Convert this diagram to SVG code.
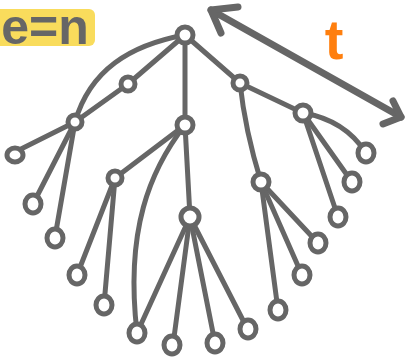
<svg xmlns="http://www.w3.org/2000/svg" width="408" height="359" viewBox="0 0 408 359">
  <style>
    .edge { fill: none; stroke: #666; stroke-width: 5; stroke-linecap: round; stroke-linejoin: round; }
    .node circle, .node ellipse { fill: #fff; stroke: #666; stroke-width: 5; }
    .lbl { font-family: "Liberation Sans", Arial, sans-serif; font-weight: bold; }
  </style>

  <!-- formula badge -->
  <g id="badge">
    <rect x="-8" y="9" width="103" height="37" rx="6" fill="#f9dc5c"/>
    <text class="lbl" x="45" y="44" font-size="50" fill="#666" text-anchor="middle">e=n</text>
  </g>

  <!-- depth arrow -->
  <g id="depth-arrow" fill="none" stroke="#666" stroke-width="7" stroke-linecap="round" stroke-linejoin="round">
    <path d="M211 10 Q300 60 401 117"/>
    <path d="M238 7 L211 10 L221 33"/>
    <path d="M393 101 L401 117 L383 124"/>
  </g>
  <text id="label-t" class="lbl" x="334" y="59" font-size="56" fill="#ff7f0e" text-anchor="middle">t</text>

  <g id="connectors">
    <path class="edge" d="M185 35 C130 45 90 70 75 122"/>
    <path class="edge" d="M185 35 L128 84 L75 122"/>
    <path class="edge" d="M75 122 L15 152"/>
    <path class="edge" d="M75 122 L33 204"/>
    <path class="edge" d="M75 122 L55 237"/>
    <path class="edge" d="M185 35 L185 125"/>
    <path class="edge" d="M185 125 L115 178"/>
    <path class="edge" d="M115 178 L77 275"/>
    <path class="edge" d="M115 178 L104 305"/>
    <path class="edge" d="M185 125 C150 170 125 230 137 333"/>
    <path class="edge" d="M185 125 L190 217"/>
    <path class="edge" d="M190 217 L137 333"/>
    <path class="edge" d="M190 217 L173 345"/>
    <path class="edge" d="M190 217 L215 343"/>
    <path class="edge" d="M190 217 L248 330"/>
    <path class="edge" d="M185 35 L240 83"/>
    <path class="edge" d="M240 83 L303 113"/>
    <path class="edge" d="M240 83 Q245 130 261 182"/>
    <path class="edge" d="M303 113 Q345 120 366 153"/>
    <path class="edge" d="M303 113 L352 182"/>
    <path class="edge" d="M303 113 L338 217"/>
    <path class="edge" d="M261 182 L318 243"/>
    <path class="edge" d="M261 182 L302 275"/>
    <path class="edge" d="M261 182 L278 310"/>
  </g>

  <!-- inner nodes -->
  <g id="n-root" class="node"><circle cx="185" cy="35" r="8"/></g>
  <g id="n-a" class="node"><circle cx="128" cy="84" r="7"/></g>
  <g id="n-b" class="node"><circle cx="75" cy="122" r="7"/></g>
  <g id="n-c" class="node"><circle cx="185" cy="125" r="8"/></g>
  <g id="n-d" class="node"><circle cx="115" cy="178" r="7"/></g>
  <g id="n-e" class="node"><circle cx="190" cy="217" r="9"/></g>
  <g id="n-f" class="node"><circle cx="240" cy="83" r="7"/></g>
  <g id="n-g" class="node"><circle cx="303" cy="113" r="8"/></g>
  <g id="n-h" class="node"><circle cx="261" cy="182" r="8"/></g>

  <!-- leaves -->
  <g id="l1" class="node"><ellipse cx="15" cy="155" rx="8" ry="7"/></g>
  <g id="l2" class="node"><ellipse cx="33" cy="204" rx="8" ry="9"/></g>
  <g id="l3" class="node"><ellipse cx="55" cy="238" rx="8" ry="9"/></g>
  <g id="l4" class="node"><ellipse cx="77" cy="275" rx="8" ry="9"/></g>
  <g id="l5" class="node"><ellipse cx="104" cy="305" rx="8" ry="9"/></g>
  <g id="l6" class="node"><ellipse cx="137" cy="333" rx="8" ry="9"/></g>
  <g id="l7" class="node"><ellipse cx="172" cy="345" rx="8" ry="9"/></g>
  <g id="l8" class="node"><ellipse cx="215" cy="343" rx="8" ry="9"/></g>
  <g id="l9" class="node"><ellipse cx="248" cy="329" rx="8" ry="9"/></g>
  <g id="l10" class="node"><ellipse cx="278" cy="310" rx="8" ry="9"/></g>
  <g id="l11" class="node"><ellipse cx="302" cy="275" rx="8" ry="9"/></g>
  <g id="l12" class="node"><ellipse cx="318" cy="243" rx="8" ry="9"/></g>
  <g id="l13" class="node"><ellipse cx="338" cy="217" rx="8" ry="9"/></g>
  <g id="l14" class="node"><ellipse cx="352" cy="182" rx="8" ry="9"/></g>
  <g id="l15" class="node"><ellipse cx="366" cy="153" rx="8" ry="9"/></g>
</svg>
